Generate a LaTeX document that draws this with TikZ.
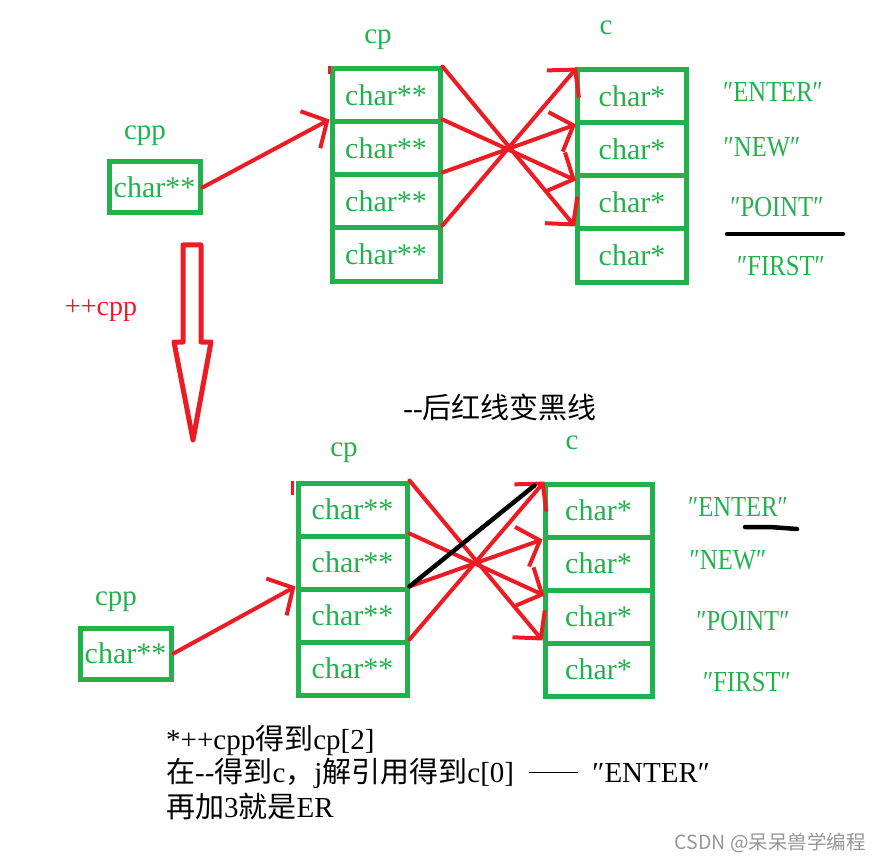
\documentclass[tikz,border=0pt]{standalone}
\usepackage{fontspec}
\setmainfont{Liberation Serif}
\newfontfamily\cjk{Noto Sans CJK SC}
\newfontfamily\narrowf[FakeStretch=0.85]{Liberation Serif}
\usetikzlibrary{arrows.meta,calc}
\definecolor{pgreen}{RGB}{34,177,76}
\definecolor{pred}{RGB}{237,28,36}
\begin{document}
\begin{tikzpicture}[x=1pt,y=-1pt,
  cell/.style={draw=pgreen, line width=5pt, inner sep=0pt, text=pgreen,
    font=\fontsize{30}{32}\selectfont},
  cpcell/.style={cell, minimum width=108pt, minimum height=53pt},
  ccell/.style={cell, minimum width=109pt, minimum height=53pt},
  lbl/.style={text=pgreen, inner sep=0pt, font=\fontsize{29}{31}\selectfont},
  strl/.style={text=pgreen, inner sep=0pt, font=\narrowf\fontsize{29}{31}\selectfont},
  arr/.style={pred, line width=4pt, line cap=round, line join=round,
    -{Straight Barb[length=19pt,width=42pt]}},
  blk/.style={black, line width=4.5pt, line cap=round},
  txt/.style={black, inner sep=0pt, font=\fontsize{29}{31}\selectfont}]
\useasboundingbox (0,0) rectangle (881,861);

% ---------- top diagram ----------
\node[cell, minimum width=91pt, minimum height=51pt] (cppA) at (154.5,187.5) {char**};
\node[lbl] (cppAl) at (145,136) {cpp};
\node[lbl] (cpAl) at (378,40) {cp};
\node[lbl] (cAl) at (606,28) {c};
\foreach \i/\y in {0/95.5,1/148.5,2/201.5,3/254.5}{
  \node[cpcell] (cpA\i) at (386,\y) {char**};
}
\foreach \i/\y in {0/96.5,1/149.5,2/202.5,3/255.5}{
  \node[ccell] (cA\i) at (632,\y) {char*};
}
\node[strl] (sA0) at (773,92) {″ENTER″};
\node[strl] (sA1) at (762,147) {″NEW″};
\node[strl] (sA2) at (777,207) {″POINT″};
\node[strl] (sA3) at (781,266) {″FIRST″};
\draw[blk] (727,234) -- (843,234);

\draw[arr] (cppA.east) -- (cpA1.north west);
\draw[pred, line width=3pt] (cpA0.north west) -- ++(0,8);
\draw[arr] (cpA0.north east) -- (cA3.north west);
\draw[arr] (cpA1.north east) -- ($(cA2.north west)+(1,7)$);
\draw[arr] (cpA2.north east) -- ($(cA1.north west)+(1,4)$);
\draw[arr] (cpA3.north east) -- ($(cA0.north west)+(2,0)$);

% hollow arrow
\draw[pred, line width=5pt, line join=round]
  (183,245) -- (201,245) -- (201,342) -- (211,342) -- (193,440)
  -- (174,342) -- (183,342) -- cycle;
\node[text=pred, inner sep=0pt, font=\fontsize{28}{30}\selectfont] (inc) at (101,311) {++cpp};

\node[txt] (note) at (500,407) {-{}-{\cjk 后红线变黑线}};

% ---------- bottom diagram ----------
\node[cell, minimum width=91pt, minimum height=51pt] (cppB) at (125.5,653.5) {char**};
\node[lbl] (cppBl) at (116,602) {cpp};
\node[lbl] (cpBl) at (344,453) {cp};
\node[lbl] (cBl) at (572,443) {c};
\foreach \i/\y in {0/509.5,1/562.5,2/615.5,3/668.5}{
  \node[cell, minimum width=109pt, minimum height=53pt] (cpB\i) at (352.5,\y) {char**};
}
\foreach \i/\y in {0/510.5,1/563.5,2/616.5,3/669.5}{
  \node[cell, minimum width=107pt, minimum height=53pt] (cB\i) at (598.5,\y) {char*};
}
\node[strl] (sB0) at (738,507) {″ENTER″};
\node[strl] (sB1) at (728,560) {″NEW″};
\node[strl] (sB2) at (743,621) {″POINT″};
\node[strl] (sB3) at (747,682) {″FIRST″};
\draw[blk] (745,527) -- (770,527) -- (797,529);

\draw[arr] (cppB.east) -- (cpB2.north west);
\draw[pred, line width=3pt] ($(cpB0.north west)+(-3,0)$) -- ++(0,14);
\draw[arr] (cpB0.north east) -- (cB3.north west);
\draw[arr] (cpB1.north east) -- ($(cB2.north west)+(2,8)$);
\draw[arr] (cpB2.north east) -- ($(cB1.north west)+(0,5)$);
\draw[arr] (cpB3.north east) -- ($(cB0.north west)+(2,0)$);
\draw[blk] (cpB2.north east) -- ($(cB0.north west)+(-8,4)$);

% ---------- notes ----------
\node[txt, anchor=west] (t1) at (166,740) {*++cpp{\cjk 得到}cp[2]};
\node[txt, anchor=west] (t2) at (166,773) {{\cjk 在}-{}-{\cjk 得到}c{\cjk ，}j{\cjk 解引用得到}c[0]\ \ \rule[0.3em]{1.7em}{1.2pt}\ \ ″ENTER″};
\node[txt, anchor=west] (t3) at (166,806) {{\cjk 再加}3{\cjk 就是}ER};

\node[anchor=east, inner sep=0pt, text={rgb,255:red,150;green,150;blue,150},
  font=\cjk\fontsize{19.5}{21}\selectfont] (wm) at (866,843) {CSDN @呆呆兽学编程};
\end{tikzpicture}
\end{document}
